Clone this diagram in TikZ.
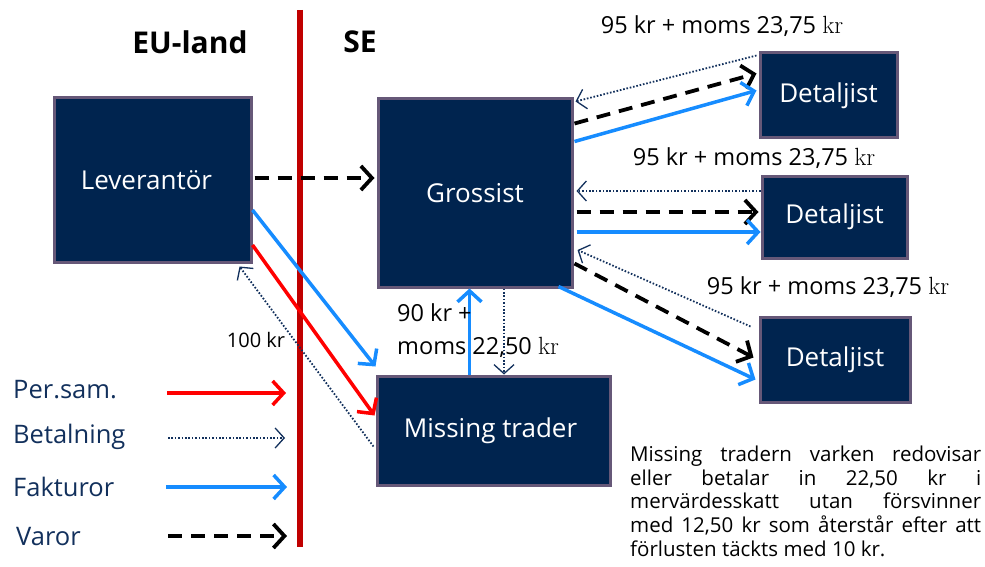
\documentclass[tikz,border=0pt]{standalone}
\usepackage[no-math]{fontspec}
\setmainfont{Open Sans}
\usetikzlibrary{arrows.meta}
\definecolor{boxfill}{HTML}{00244F}
\definecolor{boxedge}{HTML}{665878}
\definecolor{navy}{HTML}{12305C}
\definecolor{invblue}{HTML}{168CFF}
\definecolor{divred}{HTML}{C00000}
\newcommand{\kr}{$\mathrm{kr}$}
\tikzset{
  box/.style={draw=boxedge, line width=3pt, fill=boxfill, text=white, inner sep=0pt,
    font=\fontsize{26}{30}\selectfont},
  tip/.style={-{Straight Barb[length=11pt,width=24pt]}},
  goods/.style={tip, black, line width=3.8pt, dash pattern=on 14pt off 9pt},
  invoice/.style={tip, invblue, line width=3.5pt},
  owner/.style={tip, red, line width=3.5pt},
  pay/.style={navy, line width=1.8pt, dash pattern=on 1.6pt off 1.8pt,
    -{Straight Barb[length=9pt,width=20pt,line width=1.3pt]}},
  amount/.style={font=\fontsize{23.5}{26}\selectfont, inner sep=0pt},
  legend/.style={text=navy, anchor=west, inner sep=0pt, font=\fontsize{25.5}{28}\selectfont},
  side/.style={font=\bfseries\fontsize{30}{34}\selectfont, inner sep=0pt}
}
\begin{document}
\begin{tikzpicture}[x=1pt, y=-1pt]
\useasboundingbox (0,0) rectangle (985,567);

% border between EU country and Sweden
\draw[divred, line width=5.5pt] (300,10) -- (300,547);
\node[side] (eu) at (190,42) {EU-land};
\node[side] (se) at (360,42) {SE};

% parties
\node[box, minimum width=197pt, minimum height=164pt] (lev) at (152.5,180) {\hspace*{-12pt}Leverantör};
\node[box, minimum width=194pt, minimum height=188pt] (gro) at (475,193) {Grossist};
\node[box, minimum width=233pt, minimum height=109pt] (mt) at (493.5,430.5) {\hspace*{-6pt}Missing trader};
\node[box, minimum width=137pt, minimum height=85pt] (d1) at (828.5,95.5) {Detaljist};
\node[box, minimum width=145pt, minimum height=82pt] (d2) at (834.5,217) {Detaljist};
\node[box, minimum width=150pt, minimum height=85pt] (d3) at (835,359.5) {Detaljist};

% supplier -> wholesaler / missing trader
\draw[goods] ([xshift=2pt,yshift=2pt]lev.east) -- ([xshift=-2pt,yshift=15pt]gro.west);
\draw[invoice] ([yshift=-30pt]lev.east) -- ([yshift=8pt]mt.north west);
\draw[owner] ([yshift=-65pt]lev.east) -- ([xshift=-1pt,yshift=15pt]mt.west);
\draw[pay] ([xshift=-2pt,yshift=-16pt]mt.west) -- ([xshift=-13pt,yshift=-3pt]lev.south east);
\node[amount, font=\fontsize{20}{24}\selectfont] (p100) at (256,340) {100 kr};

% missing trader <-> wholesaler
\draw[invoice] ([xshift=-24pt]mt.north) -- ([xshift=-24pt]mt.north |- gro.south);
\draw[pay] ([xshift=29pt]gro.south) -- ([xshift=29pt]gro.south |- mt.north);
\node[amount, anchor=west] (p90a) at (397,313) {90 kr +};
\node[amount, anchor=west] (p90b) at (397,347) {moms 22,50 \kr};

% wholesaler <-> retailer 1
\draw[pay] ([xshift=-2pt,yshift=-4pt]d1.north west) -- ([xshift=2pt,yshift=-4pt]gro.north east);
\draw[goods] ([xshift=1pt,yshift=-26pt]gro.north east) -- ([xshift=-2pt,yshift=22pt]d1.west);
\draw[invoice] ([xshift=1pt,yshift=-44pt]gro.north east) -- ([xshift=-2pt,yshift=5pt]d1.west);
\node[amount] (p95a) at (722,26) {95 kr + moms 23,75 \kr};

% wholesaler <-> retailer 2
\draw[pay] ([yshift=26pt]d2.west) -- ([xshift=3pt,yshift=2pt]gro.east);
\draw[goods] ([xshift=3pt,yshift=-19pt]gro.east) -- ([xshift=-2pt,yshift=5pt]d2.west);
\draw[invoice] ([xshift=3pt,yshift=-39pt]gro.east) -- ([yshift=-15pt]d2.west);
\node[amount] (p95b) at (754,158) {95 kr + moms 23,75 \kr};

% wholesaler <-> retailer 3
\draw[pay] ([xshift=-8pt,yshift=-11pt]d3.north west) -- ([xshift=4pt,yshift=-57pt]gro.east);
\draw[goods] ([xshift=1pt,yshift=25pt]gro.south east) -- ([xshift=-5pt,yshift=2pt]d3.west);
\draw[invoice] ([xshift=-15pt,yshift=2pt]gro.south east) -- ([xshift=-3pt,yshift=-20pt]d3.west);
\node[amount] (p95c) at (828,287) {95 kr + moms 23,75 \kr};

% legend
\node[legend] (lg1) at (13,390) {Per.sam.};
\node[legend] (lg2) at (13,437) {Betalning};
\node[legend] (lg3) at (13,487) {Fakturor};
\node[legend] (lg4) at (16,537) {Varor};
\coordinate (l1a) at (167,393); \coordinate (l1b) at (286,393);
\coordinate (l2a) at (168,438); \coordinate (l2b) at (285,438);
\coordinate (l3a) at (166,487); \coordinate (l3b) at (287,487);
\coordinate (l4a) at (168,536); \coordinate (l4b) at (287,536);
\draw[owner] (l1a) -- (l1b);
\draw[pay] (l2a) -- (l2b);
\draw[invoice] (l3a) -- (l3b);
\draw[goods] (l4a) -- (l4b);

% note
\node[anchor=north west, text width=351pt, align=justify, inner sep=0pt,
      font={\fontsize{20.5}{23.6}\selectfont\lefthyphenmin=64 \hyphenpenalty=10000 }] (note) at (630,446)
  {Missing tradern varken redovisar eller betalar in 22,50 kr i mervärdesskatt utan försvinner med 12,50 kr som återstår efter att förlusten täckts med 10 kr.};
\end{tikzpicture}
\end{document}
